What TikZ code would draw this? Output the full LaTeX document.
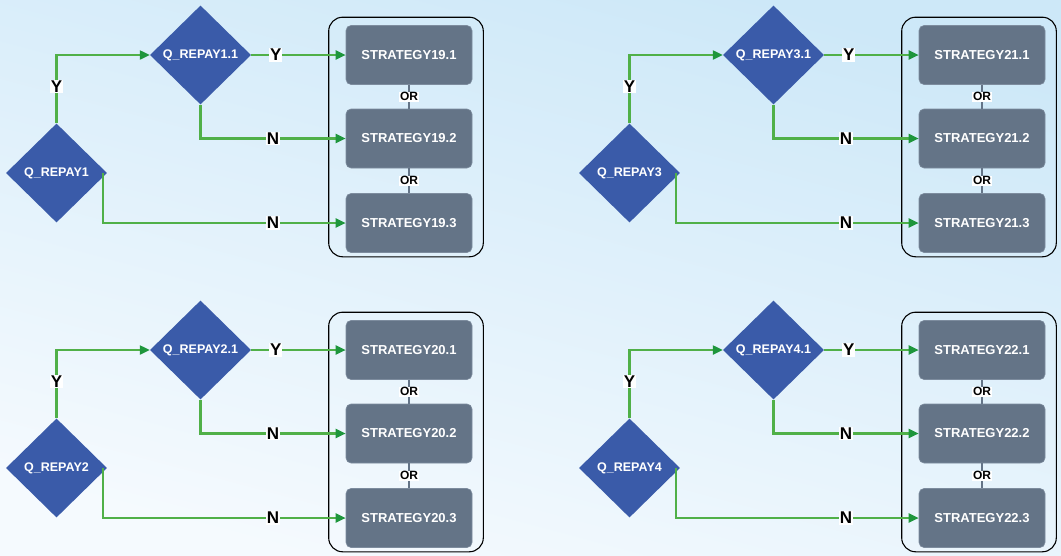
\documentclass[tikz,border=0pt]{standalone}
\usepackage{fontspec}
\setmainfont{Liberation Sans}
\usetikzlibrary{shapes.geometric,arrows.meta,calc}
\definecolor{bgtop}{RGB}{205,232,248}
\definecolor{bgbot}{RGB}{245,250,254}
\definecolor{diablue}{RGB}{58,91,169}
\definecolor{slate}{RGB}{100,116,135}
\definecolor{slateedge}{RGB}{125,140,158}
\definecolor{linegreen}{RGB}{80,176,72}
\definecolor{tipgreen}{RGB}{30,150,60}
\tikzset{
 dia/.style={diamond, aspect=1, fill=diablue, minimum width=101pt, minimum height=99pt, inner sep=0pt, text=white, font=\fontsize{12.5}{14}\selectfont\bfseries},
 strat/.style={rectangle, rounded corners=5pt, fill=slate, draw=slateedge, line width=0.6pt, minimum width=126pt, minimum height=59pt, text=white, font=\fontsize{13}{15}\selectfont\bfseries},
 edge/.style={draw=linegreen, line width=2.2pt, -{Triangle[length=10pt,width=9pt,color=tipgreen]}},
 yn/.style={fill=white, inner sep=1pt, text=black, font=\fontsize{17}{19}\selectfont\bfseries},
 orlab/.style={fill=white, inner sep=1pt, text=black, font=\fontsize{12}{14}\selectfont\bfseries},
 orline/.style={draw=slate, line width=1.6pt},
 container/.style={draw=black, line width=1.1pt, rounded corners=14pt},
}
\newcommand\drawpanel[4]{%
 \node[dia] (q#3) at (56.5+#1,173+#2) {Q\_REPAY#3};
 \node[dia] (q#3x) at (200.5+#1,55+#2) {Q\_REPAY#3.1};
 \node[strat] (s#4a) at (409+#1,55+#2) {STRATEGY#4.1};
 \node[strat] (s#4b) at (409+#1,138.5+#2) {STRATEGY#4.2};
 \node[strat] (s#4c) at (409+#1,223+#2) {STRATEGY#4.3};
 \draw[container] ($(s#4a.north west)+(-17,-8)$) rectangle ($(s#4c.south east)+(11,4)$);
 \draw[orline] (s#4a) -- node[orlab]{OR} (s#4b);
 \draw[orline] (s#4b) -- node[orlab]{OR} (s#4c);
 \draw[edge] (q#3.north) |- node[yn,pos=0.27]{Y} (q#3x.west);
 \draw[edge] (q#3x.east) -- node[yn,pos=0.26]{Y} (s#4a.west);
 \draw[edge] (q#3x.south) |- node[yn,pos=0.75]{N} (s#4b.west);
 \draw[edge] ([xshift=46.5pt]q#3.center) |- node[yn,pos=0.85]{N} (s#4c.west);
}
\begin{document}
\begin{tikzpicture}[x=1pt,y=-1pt]
\useasboundingbox (0,0) rectangle (1061,555);
\shade[top color=bgtop, bottom color=bgbot, shading angle=-15] (0,0) rectangle (1061,555);
\drawpanel{0}{0}{1}{19}
\drawpanel{573}{0}{3}{21}
\drawpanel{0}{295}{2}{20}
\drawpanel{573}{295}{4}{22}
\end{tikzpicture}
\end{document}
